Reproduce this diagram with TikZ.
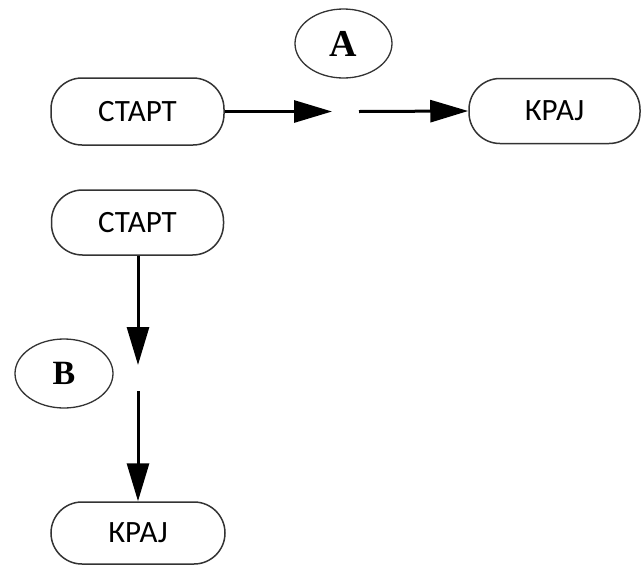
\documentclass[tikz,border=0pt]{standalone}
\usepackage{fontspec}
\setmainfont{Carlito}
\newfontfamily\lserif{Liberation Serif}
\usetikzlibrary{arrows.meta,shapes.geometric}
\begin{document}
\begin{tikzpicture}[x=1pt,y=-1pt,
  termbox/.style={draw=black!80, line width=1.5pt, rounded corners=31pt, inner sep=0pt,
    font=\fontsize{31}{34}\selectfont},
  labell/.style={ellipse, draw=black!80, line width=1.3pt, inner sep=0pt,
    font=\lserif\bfseries},
  flow/.style={line width=3pt, -{Triangle[length=38pt,width=22pt]}}
]
\useasboundingbox (0,0) rectangle (641,566);
\node[termbox, minimum width=173pt, minimum height=67pt] (s1) at (137.5,111.5) {\raisebox{-2pt}{СТАРТ}};
\node[termbox, minimum width=171pt, minimum height=65pt] (k1) at (554.5,111) {\raisebox{-2pt}{КРАЈ}};
\node[labell, minimum width=97pt, minimum height=69pt, font=\lserif\bfseries\fontsize{38}{40}\selectfont] (A) at (343.5,43.5) {A};
\coordinate (g1) at (332,111.5);
\coordinate (g2) at (359,111.5);
\draw[flow] (s1.east) -- (g1);
\draw[flow] (g2) -- (k1.west);

\node[termbox, minimum width=172pt, minimum height=65pt] (s2) at (137.5,222.5) {\raisebox{-2pt}{СТАРТ}};
\node[termbox, minimum width=174pt, minimum height=62pt] (k2) at (138,533) {\raisebox{-2pt}{КРАЈ}};
\node[labell, minimum width=98pt, minimum height=69pt, font=\lserif\bfseries\fontsize{34}{36}\selectfont] (B) at (64,373.5) {B};
\coordinate (h1) at (138,365);
\coordinate (h2) at (138,391);
\draw[flow] (s2.south -| h1) -- (h1);
\draw[flow] (h2) -- (k2.north -| h2);
\end{tikzpicture}
\end{document}
